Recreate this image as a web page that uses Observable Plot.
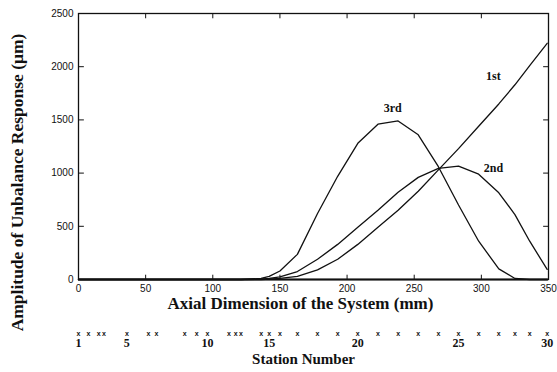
<!DOCTYPE html>
<html>
<head>
<meta charset="utf-8">
<script src="https://cdn.jsdelivr.net/npm/d3@7"></script>
<script src="https://cdn.jsdelivr.net/npm/@observablehq/plot@0.6"></script>
<style>
  body { margin: 0; background: #fff; }
  svg { display: block; }
</style>
</head>
<body>
<div id="chart"></div>
<script>
// Station numbers along the rotor and their axial positions (mm)
const stationNumbers = d3.range(1, 31);
const stationMm = [0, 7.5, 15, 19, 36, 52, 58, 79, 88, 96, 112, 117, 121, 136, 142,
                   150, 163, 178, 193, 208, 223, 238, 253, 268, 283, 298, 313, 325, 336, 349];
const labeledStations = [1, 5, 10, 15, 20, 25, 30];

// Unbalance response amplitude (µm) at each station, per mode
const firstMode  = [0, 0, 0, 0, 0, 0, 0, 0, 0, 0, 0, 0, 0, 0, 3,
                    10, 30, 90, 190, 330, 490, 650, 830, 1030, 1230, 1440, 1650, 1830, 2010, 2220];
const secondMode = [0, 0, 0, 0, 0, 0, 0, 0, 0, 0, 0, 0, 0, 3, 10,
                    25, 75, 190, 330, 490, 650, 820, 960, 1045, 1065, 990, 815, 610, 360, 95];
const thirdMode  = [0, 0, 0, 0, 0, 0, 0, 0, 0, 0, 0, 0, 0, 10, 30,
                    80, 236, 620, 970, 1280, 1460, 1490, 1360, 1060, 700, 360, 100, 10, 0, 0];

const modeNames = ["1st", "2nd", "3rd"];
const modeLabelX = [309, 309, 234];
const modeLabelY = [1915, 1047, 1613];

const xTicks = [0, 50, 100, 150, 200, 250, 300, 350];
const yTicks = [0, 500, 1000, 1500, 2000, 2500];

const modeSeries = [firstMode, secondMode, thirdMode];
const rows = modeSeries.flatMap((vals, m) =>
  vals.map((v, i) => ({mode: modeNames[m], x: stationMm[i], y: v}))
);
const labels = modeNames.map((name, m) => ({name, x: modeLabelX[m], y: modeLabelY[m]}));

const serif = "'Liberation Serif', 'DejaVu Serif', serif";
const sans = "'Liberation Sans', 'DejaVu Sans', sans-serif";

const chart = Plot.plot({
  width: 557,
  height: 372,
  marginTop: 13,
  marginRight: 9,
  marginBottom: 93,
  marginLeft: 78,
  style: {fontFamily: sans, background: "#fff", color: "#111"},
  x: {domain: [0, 350], axis: null},
  y: {domain: [0, 2500], axis: null},
  marks: [
    Plot.frame({stroke: "#111", strokeWidth: 1.3}),
    // inward ticks on all four sides
    Plot.link(yTicks, {x1: 0, x2: 4, y1: d => d, y2: d => d, stroke: "#111"}),
    Plot.link(yTicks, {x1: 346, x2: 350, y1: d => d, y2: d => d, stroke: "#111"}),
    Plot.link(xTicks, {x1: d => d, x2: d => d, y1: 0, y2: 45, stroke: "#111"}),
    Plot.link(xTicks, {x1: d => d, x2: d => d, y1: 2455, y2: 2500, stroke: "#111"}),
    Plot.axisX({ticks: xTicks, tickSize: 0, tickPadding: 5, label: null, fontSize: 10, tickFormat: d => String(d)}),
    Plot.axisY({ticks: yTicks, tickSize: 0, tickPadding: 5, label: null, fontSize: 10, tickFormat: d => String(d)}),
    Plot.ruleY([0], {stroke: "#111", strokeWidth: 2}),
    Plot.line(rows, {x: "x", y: "y", z: "mode", stroke: "#111", strokeWidth: 1.3}),
    Plot.text(labels, {x: "x", y: "y", text: "name", fill: "#111", fontFamily: serif, fontWeight: "bold", fontSize: 12}),
    // axis titles
    Plot.text(["Axial Dimension of the System (mm)"], {
      frameAnchor: "bottom", lineAnchor: "middle", dx: -13, dy: 24, fill: "#111",
      fontFamily: serif, fontWeight: "bold", fontSize: 17
    }),
    Plot.text(["Amplitude of Unbalance Response (μm)"], {
      frameAnchor: "left", textAnchor: "middle", lineAnchor: "middle", dx: -61, dy: 36, rotate: -90, fill: "#111",
      fontFamily: serif, fontWeight: "bold", fontSize: 17.5
    }),
    // station number scale beneath the plot
    Plot.text(stationNumbers, {
      x: s => stationMm[s - 1], text: () => "x", frameAnchor: "bottom", lineAnchor: "middle", dy: 54,
      fill: "#111", fontFamily: sans, fontSize: 7, fontWeight: "bold"
    }),
    Plot.text(labeledStations, {
      x: s => stationMm[s - 1], text: d => String(d), frameAnchor: "bottom", lineAnchor: "middle", dy: 64,
      fill: "#111", fontFamily: serif, fontWeight: "bold", fontSize: 12
    }),
    Plot.text(["Station Number"], {
      frameAnchor: "bottom", lineAnchor: "middle", dx: -10, dy: 80, fill: "#111",
      fontFamily: serif, fontWeight: "bold", fontSize: 15
    })
  ]
});

document.getElementById("chart").appendChild(chart);
</script>
</body>
</html>
